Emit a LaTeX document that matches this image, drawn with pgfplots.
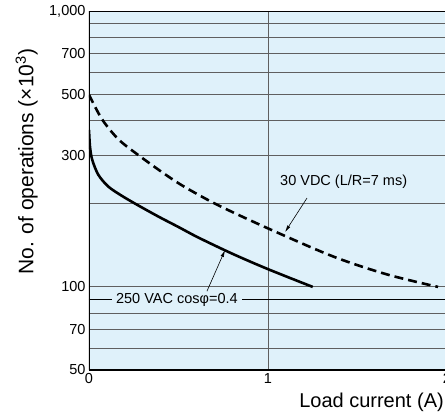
\documentclass[border=0pt]{standalone}
\usepackage{pgfplots}
\pgfplotsset{compat=1.18}
\usetikzlibrary{arrows.meta}
\usepackage{fontspec}
\setmainfont{Liberation Sans}
\definecolor{bgblue}{RGB}{223,241,250}
\definecolor{gridgray}{RGB}{95,95,95}
\begin{document}
\begin{tikzpicture}
\begin{axis}[
  at={(0,0)}, anchor=south west,
  scale only axis, width=358pt, height=359pt,
  ymode=log, log basis y=10,
  xmin=0, xmax=2, ymin=50, ymax=1000,
  axis background/.style={fill=bgblue},
  axis line style={black, line width=0.8pt},
  xtick={0,1,2}, xticklabels={0,1,2},
  ytick={50,60,70,80,90,100,200,300,400,500,600,700,800,900,1000},
  yticklabels={{50},{},{70},{},{},{100},{},{300},{},{500},{},{700},{},{},{1,000}},
  major tick length=0pt, minor tick length=0pt, yminorticks=false,
  xmajorgrids, ymajorgrids,
  grid style={gridgray, line width=0.9pt},
  tick label style={font=\fontsize{14.5}{16}\selectfont},
  xlabel={Load current (A)},
  xlabel style={at={(rel axis cs:1,0)}, anchor=east, xshift=-3pt, yshift=-32pt, inner sep=0pt, font=\fontsize{20}{22}\selectfont},
  ylabel={No. of operations (×10\textsuperscript{3})},
  ylabel style={at={(rel axis cs:-0.1425,0.58)}, anchor=south, inner sep=0pt, font=\fontsize{21}{23}\selectfont},
]
\draw[black, line width=0.8pt] (axis cs:0,90) -- (axis cs:2,90);
% 250 VAC cos phi = 0.4
\addplot[black, line width=2.6pt, smooth, tension=0.5] coordinates {
  (0,371) (0.0056,322) (0.018,289) (0.052,255) (0.108,231) (0.183,214) (0.266,199) (0.387,180) (0.499,165) (0.611,151) (0.8,132) (1.0,116) (1.25,100)
};
% 30 VDC (L/R=7 ms)
\addplot[black, line width=2.6pt, smooth, tension=0.5, dash pattern=on 9pt off 5pt] coordinates {
  (0,497) (0.073,405) (0.164,343) (0.274,301) (0.425,256) (0.536,230) (0.72,198) (1.0,163) (1.363,129) (1.665,111) (1.95,100)
};
\node[anchor=west, inner sep=0pt, font=\fontsize{14.5}{16}\selectfont] at (axis cs:1.067,240) {30 VDC (L/R=7 ms)};
\draw[line width=0.6pt, -{Latex[length=7pt,width=3.5pt]}] (axis cs:1.218,210) -- (axis cs:1.095,158);
\node[anchor=west, fill=bgblue, inner xsep=4pt, inner ysep=1pt, font=\fontsize{14.5}{16}\selectfont] at (axis cs:0.128,90) {250 VAC cosφ=0.4};
\draw[line width=0.6pt, -{Latex[length=7pt,width=3.5pt]}] (axis cs:0.659,96.5) -- (axis cs:0.76,136);
\draw[black, line width=2pt] (rel axis cs:0,1) -- (rel axis cs:0,0) -- (rel axis cs:1,0);
\end{axis}
\pgfresetboundingbox
\path[use as bounding box] (-89pt,-46pt) rectangle (356pt,370pt);
\end{tikzpicture}
\end{document}
